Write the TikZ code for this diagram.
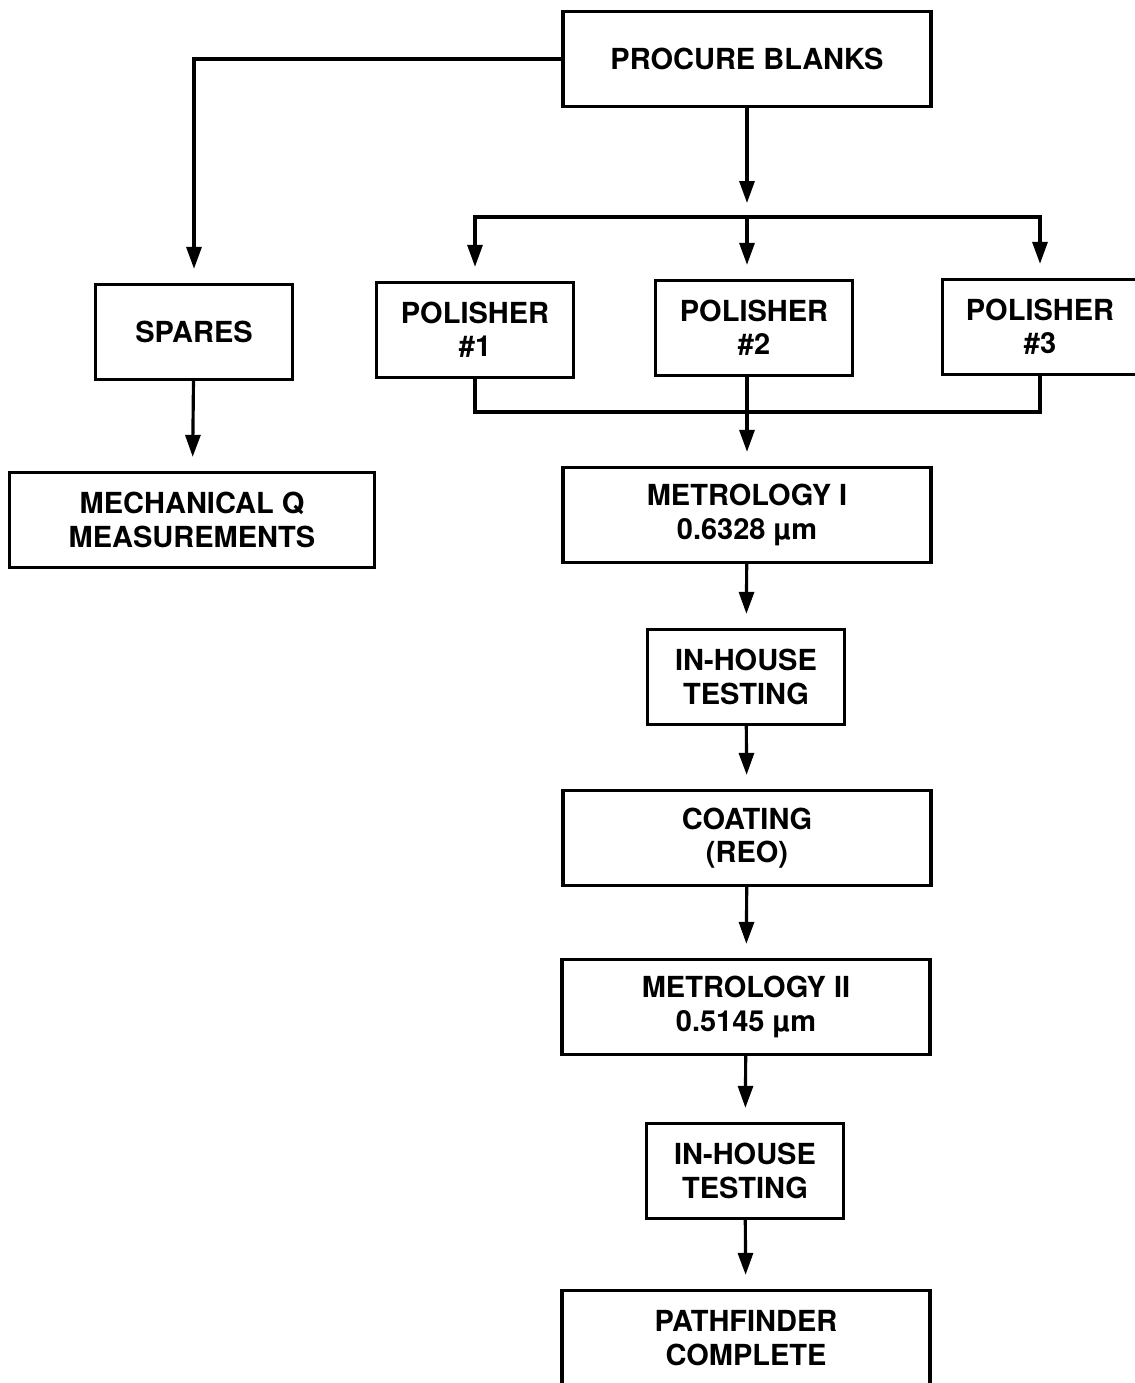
\documentclass[tikz,border=0pt]{standalone}
\usepackage{fontspec}
\setmainfont{TeX Gyre Heros}
\usetikzlibrary{arrows.meta}
\tikzset{
  ln/.style={line width=1.8pt,black},
  ar/.style={ln,-{Triangle[length=4.4mm,width=3mm]},shorten >=2.8mm},
  blk/.style={draw,line width=1.9pt,align=center,minimum height=1.9cm,inner sep=2pt,
    font=\fontsize{16.5}{19}\selectfont\bfseries},
  wide/.style={blk,minimum width=7.36cm},
  slim/.style={blk,minimum width=3.94cm}
}
\begin{document}
\begin{tikzpicture}[x=0.02cm,y=-0.02cm]
\useasboundingbox (0,0) rectangle (1135,1383);
% boxes
\node[wide] (procure) at (747,59) {PROCURE BLANKS};
\node[slim] (spares) at (194,332) {SPARES};
\node[blk,minimum width=7.3cm] (mech) at (192,520) {MECHANICAL Q\\MEASUREMENTS};
\node[slim] (pol1) at (475,330) {POLISHER\\\#1};
\node[slim] (pol2) at (754,328) {POLISHER\\\#2};
\node[slim,minimum width=3.9cm] (pol3) at (1040,327) {POLISHER\\\#3};
\node[wide] (met1) at (747,515) {METROLOGY I\\0.6328 µm};
\node[slim] (test1) at (746,677) {IN-HOUSE\\TESTING};
\node[wide] (coat) at (747,838) {COATING\\(REO)};
\node[wide] (met2) at (746,1007) {METROLOGY II\\0.5145 µm};
\node[slim] (test2) at (745,1171) {IN-HOUSE\\TESTING};
\node[wide] (path) at (746,1338) {PATHFINDER\\COMPLETE};
\coordinate (split) at (747,217);
\coordinate (join) at (747,412);
% connectors
\draw[ar] (procure.west) -| (spares);
\draw[ar] (spares) -- (mech);
\draw[ar] (procure) -- (split);
\draw[ar] (split) -| (pol1);
\draw[ar] (split) -| (pol3);
\draw[ar] (split) -- (split |- pol2.north);
\draw[ln] (pol1) |- (join) -| (pol3);
\draw[ar] (pol2.south -| met1) -- (met1);
\draw[ar] (met1) -- (test1);
\draw[ar] (test1) -- (coat);
\draw[ar] (coat) -- (met2);
\draw[ar] (met2) -- (test2);
\draw[ar] (test2) -- (path);
\end{tikzpicture}
\end{document}
